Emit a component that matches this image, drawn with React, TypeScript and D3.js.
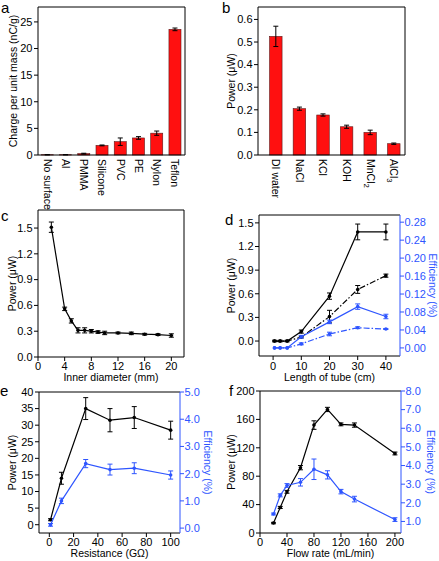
import React from "react";
import * as d3 from "d3";

// ---------- data ----------
const catA = ["No surface", "Al", "PMMA", "Silicone", "PVC", "PE", "Nylon", "Teflon"];
const valA = [0.05, 0.05, 0.25, 1.8, 2.5, 3.2, 4.1, 23.6];
const errA = [0.02, 0.02, 0.08, 0.08, 0.7, 0.25, 0.4, 0.25];
const ticksA = [0, 5, 10, 15, 20, 25];

const catB = ["DI water", "NaCl", "KCl", "KOH", "MnCl2", "AlCl3"];
const valB = [0.525, 0.205, 0.177, 0.125, 0.1, 0.05];
const errB = [0.045, 0.007, 0.005, 0.007, 0.01, 0.003];
const ticksB = [0, 0.1, 0.2, 0.3, 0.4, 0.5, 0.6];

const xC = [2, 4, 5, 6, 7, 8, 9, 10, 12, 14, 16, 18, 20];
const yC = [1.51, 0.56, 0.42, 0.31, 0.31, 0.3, 0.29, 0.28, 0.28, 0.275, 0.265, 0.26, 0.25];
const eC = [0.06, 0.02, 0.025, 0.03, 0.03, 0.02, 0.015, 0.02, 0.01, 0.015, 0.01, 0.01, 0.02];
const xTicksC = [0, 4, 8, 12, 16, 20];
const yTicksC = [0, 0.3, 0.6, 0.9, 1.2, 1.5];

const xD = [0.5, 2.5, 5, 10, 20, 30, 40];
const dPowSolid = [0, 0, 0, 0.12, 0.57, 1.385, 1.385];
const dPowSolidErr = [0.01, 0.01, 0.01, 0.02, 0.04, 0.1, 0.1];
const dPowDash = [0, 0, 0, 0.05, 0.31, 0.655, 0.83];
const dPowDashErr = [0, 0, 0, 0.01, 0.08, 0.05, 0.02];
const dEffSolid = [0, 0, 0, 0.025, 0.058, 0.092, 0.07];
const dEffSolidErr = [0, 0, 0, 0.003, 0.004, 0.006, 0.005];
const dEffDash = [0, 0, 0, 0.009, 0.031, 0.045, 0.042];
const dEffDashErr = [0, 0, 0, 0.002, 0.004, 0.002, 0.001];
const xTicksD = [0, 10, 20, 30, 40];
const yTicksD = [0, 0.3, 0.6, 0.9, 1.2, 1.5];
const y2TicksD = [0, 0.04, 0.08, 0.12, 0.16, 0.2, 0.24, 0.28];

const xE = [1, 10, 30, 50, 70, 100];
const ePow = [1.5, 14, 35, 31.5, 32.3, 28.5];
const ePowErr = [0.3, 1.8, 3.3, 3.5, 3.3, 2.7];
const eEff = [0.12, 1.0, 2.37, 2.15, 2.2, 1.95];
const eEffErr = [0.05, 0.1, 0.15, 0.2, 0.2, 0.15];
const xTicksE = [0, 20, 40, 60, 80, 100];
const yTicksE = [0, 5, 10, 15, 20, 25, 30, 35, 40];
const y2TicksE = [0, 1, 2, 3, 4, 5];

const xF = [20, 30, 40, 60, 80, 100, 120, 140, 200];
const fPow = [14, 36, 58, 92, 152, 174, 153, 152, 112];
const fPowErr = [1, 1.5, 2, 3, 6, 3, 2, 3, 2];
const fEff = [1.4, 2.4, 2.93, 3.1, 3.8, 3.5, 2.6, 2.2, 1.1];
const fEffErr = [0.05, 0.08, 0.1, 0.2, 0.55, 0.22, 0.12, 0.15, 0.1];
const xTicksF = [0, 40, 80, 120, 160, 200];
const yTicksF = [0, 40, 80, 120, 160, 200];
const y2TicksF = [1, 2, 3, 4, 5, 6, 7, 8];

// ---------- style ----------
const FONT = "Liberation Sans, Arial, Helvetica, sans-serif";
const FS = 11;
const FT = 10.5;
const BLUE = "#2e55ff";
const RED = "#ff1010";
const TL = 4;

type Frame = { l: number; r: number; t: number; b: number };

function LeftAxis({ f, y, ticks, fmt, title, tx }: any) {
  return (
    <g>
      {ticks.map((v: number, i: number) => (
        <g key={i}>
          <line x1={f.l - TL} x2={f.l} y1={y(v)} y2={y(v)} stroke="#000" />
          <text x={f.l - TL - 1.5} y={y(v)} dy="0.35em" textAnchor="end" fontSize={FS}>
            {fmt(v)}
          </text>
        </g>
      ))}
      <text
        transform={`translate(${tx},${(f.t + f.b) / 2}) rotate(-90)`}
        textAnchor="middle"
        dy="0.35em"
        fontSize={FT}
      >
        {title}
      </text>
    </g>
  );
}

function RightAxis({ f, y, ticks, fmt, title, tx }: any) {
  return (
    <g fill={BLUE}>
      {ticks.map((v: number, i: number) => (
        <g key={i}>
          <line x1={f.r} x2={f.r + TL} y1={y(v)} y2={y(v)} stroke={BLUE} />
          <text x={f.r + TL + 0.5} y={y(v)} dy="0.35em" textAnchor="start" fontSize={FS}>
            {fmt(v)}
          </text>
        </g>
      ))}
      <text
        transform={`translate(${tx},${(f.t + f.b) / 2}) rotate(90)`}
        textAnchor="middle"
        dy="0.35em"
        fontSize={FT}
      >
        {title}
      </text>
    </g>
  );
}

function BottomAxis({ f, x, ticks, title, ly, ty }: any) {
  return (
    <g>
      {ticks.map((v: number, i: number) => (
        <g key={i}>
          <line x1={x(v)} x2={x(v)} y1={f.b} y2={f.b + TL} stroke="#000" />
          <text x={x(v)} y={ly} dy="0.35em" textAnchor="middle" fontSize={FS}>
            {v}
          </text>
        </g>
      ))}
      <text x={(f.l + f.r) / 2} y={ty} dy="0.35em" textAnchor="middle" fontSize={FT}>
        {title}
      </text>
    </g>
  );
}

function FrameBox({ f, rightColor }: { f: Frame; rightColor?: string }) {
  return (
    <g fill="none">
      <path d={`M${f.r},${f.t}H${f.l}V${f.b}H${f.r}`} stroke="#000" />
      <line x1={f.r} x2={f.r} y1={f.t} y2={f.b} stroke={rightColor || "#000"} />
    </g>
  );
}

function ErrBar({ x, y0, y1, color }: any) {
  return (
    <g stroke={color} strokeWidth={1}>
      <line x1={x} x2={x} y1={y0} y2={y1} />
      <line x1={x - 2.5} x2={x + 2.5} y1={y0} y2={y0} />
      <line x1={x - 2.5} x2={x + 2.5} y1={y1} y2={y1} />
    </g>
  );
}

function Label({ s }: { s: string }) {
  const m = s.match(/^(.*?)(\d)$/);
  if (!m) return <>{s}</>;
  return (
    <>
      {m[1]}
      <tspan fontSize={FS * 0.7} dy="0.35em">
        {m[2]}
      </tspan>
    </>
  );
}

function BarPanel({ f, cats, vals, errs, ymax, ticks, fmt, title, tx, pi, po, align }: any) {
  const x = d3
    .scaleBand<string>()
    .domain(cats)
    .range([f.l, f.r])
    .paddingInner(pi)
    .paddingOuter(po)
    .align(align);
  const y = d3.scaleLinear().domain([0, ymax]).range([f.b, f.t]);
  return (
    <g>
      {cats.map((c: string, i: number) => {
        const cx = (x(c) as number) + x.bandwidth() / 2;
        return (
          <g key={c}>
            <rect
              x={x(c)}
              y={y(vals[i])}
              width={x.bandwidth()}
              height={f.b - y(vals[i])}
              fill={RED}
              stroke="#5a1a1a"
              strokeWidth={0.6}
            />
            <ErrBar x={cx} y0={y(vals[i] - errs[i])} y1={y(vals[i] + errs[i])} color="#000" />
            <text
              transform={`translate(${cx},${f.b + 4}) rotate(90)`}
              dy="0.35em"
              textAnchor="start"
              fontSize={FT}
            >
              <Label s={c} />
            </text>
          </g>
        );
      })}
      <FrameBox f={f} />
      <LeftAxis f={f} y={y} ticks={ticks} fmt={fmt} title={title} tx={tx} />
    </g>
  );
}

type Series = { xs: number[]; ys: number[]; es: number[]; color: string; dash?: string; right?: boolean };

function LinePanel({ f, xd, yd, y2d, series }: any) {
  const x = d3.scaleLinear().domain(xd).range([f.l, f.r]);
  const y = d3.scaleLinear().domain(yd).range([f.b, f.t]);
  const y2 = y2d ? d3.scaleLinear().domain(y2d).range([f.b, f.t]) : null;
  return {
    x,
    y,
    y2,
    node: (
      <g>
        {series.map((s: Series, k: number) => {
          const yy = s.right && y2 ? y2 : y;
          const pts = s.xs.map((v, i) => [x(v), yy(s.ys[i])] as [number, number]);
          const line = d3.line()(pts) as string;
          return (
            <g key={k}>
              <path d={line} fill="none" stroke={s.color} strokeWidth={1.2} strokeDasharray={s.dash} />
              {s.xs.map((v, i) =>
                s.es[i] > 0 ? (
                  <ErrBar
                    key={"e" + i}
                    x={x(v)}
                    y0={yy(s.ys[i] - s.es[i])}
                    y1={yy(s.ys[i] + s.es[i])}
                    color={s.color}
                  />
                ) : null
              )}
              {pts.map((p, i) => (
                <circle key={"c" + i} cx={p[0]} cy={p[1]} r={1.8} fill={s.color} />
              ))}
            </g>
          );
        })}
      </g>
    ),
  };
}

const f1 = (v: number) => d3.format(".1f")(v);
const f2 = (v: number) => d3.format(".2f")(v);
const f0 = (v: number) => String(v);

export default function App() {
  const fa: Frame = { l: 38, r: 185, t: 7, b: 155 };
  const fb: Frame = { l: 258, r: 405, t: 7, b: 155 };
  const fc: Frame = { l: 38, r: 184, t: 210, b: 357 };
  const fd: Frame = { l: 259, r: 400, t: 215, b: 356 };
  const fe: Frame = { l: 39, r: 180, t: 392, b: 533 };
  const ff: Frame = { l: 260, r: 401, t: 391, b: 533 };

  const pc = LinePanel({
    f: fc,
    xd: [0, 21.9],
    yd: [0, 1.71],
    series: [{ xs: xC, ys: yC, es: eC, color: "#000" }],
  });
  const pd = LinePanel({
    f: fd,
    xd: [-5, 45],
    yd: [-0.19, 1.6],
    y2d: [-0.018, 0.296],
    series: [
      { xs: xD, ys: dPowSolid, es: dPowSolidErr, color: "#000" },
      { xs: xD, ys: dPowDash, es: dPowDashErr, color: "#000", dash: "6,2,1.5,2" },
      { xs: xD, ys: dEffSolid, es: dEffSolidErr, color: BLUE, right: true },
      { xs: xD, ys: dEffDash, es: dEffDashErr, color: BLUE, right: true, dash: "6,2,1.5,2" },
    ],
  });
  const pe = LinePanel({
    f: fe,
    xd: [-8.5, 107.7],
    yd: [-2.5, 40],
    y2d: [-0.18, 5],
    series: [
      { xs: xE, ys: ePow, es: ePowErr, color: "#000" },
      { xs: xE, ys: eEff, es: eEffErr, color: BLUE, right: true },
    ],
  });
  const pf = LinePanel({
    f: ff,
    xd: [0, 209],
    yd: [0, 200],
    y2d: [0.38, 8.0],
    series: [
      { xs: xF, ys: fPow, es: fPowErr, color: "#000" },
      { xs: xF, ys: fEff, es: fEffErr, color: BLUE, right: true },
    ],
  });

  return (
    <svg
      width={439}
      height={561}
      style={{ position: "absolute", left: 0, top: 0, background: "#fff" }}
      fontFamily={FONT}
    >
      {/* panel letters */}
      <g fontSize={15}>
        <text x={1} y={13}>a</text>
        <text x={222} y={13}>b</text>
        <text x={1} y={221}>c</text>
        <text x={225} y={225}>d</text>
        <text x={0} y={396}>e</text>
        <text x={229} y={396}>f</text>
      </g>

      <BarPanel f={fa} cats={catA} vals={valA} errs={errA} ymax={27.8} ticks={ticksA} fmt={f0}
        title="Charge per unit mass (nC/g)" tx={13} pi={0.34} po={0.2} align={0.45} />
      <BarPanel f={fb} cats={catB} vals={valB} errs={errB} ymax={0.655} ticks={ticksB} fmt={f1}
        title="Power (μW)" tx={231} pi={0.47} po={0.35} align={0.7} />

      {/* c */}
      {pc.node}
      <FrameBox f={fc} />
      <LeftAxis f={fc} y={pc.y} ticks={yTicksC} fmt={f1} title="Power (μW)" tx={12} />
      <BottomAxis f={fc} x={pc.x} ticks={xTicksC} title="Inner diameter (mm)" ly={366} ty={377} />

      {/* d */}
      {pd.node}
      <FrameBox f={fd} rightColor={BLUE} />
      <LeftAxis f={fd} y={pd.y} ticks={yTicksD} fmt={f1} title="Power (μW)" tx={231} />
      <RightAxis f={fd} y={pd.y2} ticks={y2TicksD} fmt={f2} title="Efficiency (%)" tx={433} />
      <BottomAxis f={fd} x={pd.x} ticks={xTicksD} title="Length of tube (cm)" ly={366} ty={377} />

      {/* e */}
      {pe.node}
      <FrameBox f={fe} rightColor={BLUE} />
      <LeftAxis f={fe} y={pe.y} ticks={yTicksE} fmt={f0} title="Power (μW)" tx={12} />
      <RightAxis f={fe} y={pe.y2} ticks={y2TicksE} fmt={f1} title="Efficiency (%)" tx={208} />
      <BottomAxis f={fe} x={pe.x} ticks={xTicksE} title="Resistance (GΩ)" ly={542} ty={553} />

      {/* f */}
      {pf.node}
      <FrameBox f={ff} rightColor={BLUE} />
      <LeftAxis f={ff} y={pf.y} ticks={yTicksF} fmt={f0} title="Power (μW)" tx={231} />
      <RightAxis f={ff} y={pf.y2} ticks={y2TicksF} fmt={f1} title="Efficiency (%)" tx={431} />
      <BottomAxis f={ff} x={pf.x} ticks={xTicksF} title="Flow rate (mL/min)" ly={542} ty={553} />
    </svg>
  );
}
